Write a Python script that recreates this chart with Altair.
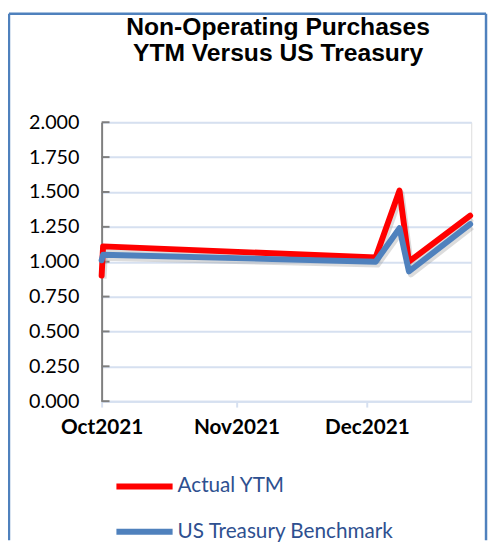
import altair as alt
import pandas as pd

# ---- data ----
dates = ["2021-10-01T00:00", "2021-10-01T08:00", "2021-12-03T00:00",
         "2021-12-08T12:00", "2021-12-10T16:00", "2021-12-24T18:00"]
actual_ytm = [0.90, 1.11, 1.03, 1.51, 1.00, 1.33]
treasury_benchmark = [1.01, 1.05, 1.00, 1.24, 0.93, 1.27]
series_names = ["Actual YTM", "US Treasury Benchmark"]
series_colors = ["#FF0000", "#4F81BD"]
y_tick_values = [0.0, 0.25, 0.5, 0.75, 1.0, 1.25, 1.5, 1.75, 2.0]
title_lines = ["Non-Operating Purchases", "YTM Versus US Treasury"]

rows = []
for i, d in enumerate(dates):
    rows.append({"date": d, "value": actual_ytm[i], "series": series_names[0], "ord": i})
    rows.append({"date": d, "value": treasury_benchmark[i], "series": series_names[1], "ord": i})
df = pd.DataFrame(rows)
ticks_df = pd.DataFrame({"value": y_tick_values})

W, H = 375, 283
PAD_L, PAD_T, PAD_R, PAD_B = 95, 112, 17, 141
BORDER = "#4F81BD"

x_enc = alt.X(
    "date:T",
    scale=alt.Scale(domain=[alt.DateTime(year=2021, month=10, date=1),
                            alt.DateTime(year=2021, month=12, date=25)]),
    axis=alt.Axis(
        title=None,
        values=[alt.DateTime(year=2021, month=10, date=1),
                alt.DateTime(year=2021, month=11, date=1),
                alt.DateTime(year=2021, month=12, date=1)],
        format="%b%Y",
        grid=False,
        labelFlush=False,
        domainColor="#D6E0F0", domainWidth=2,
        tickColor="#D6E0F0", tickWidth=2, tickSize=6,
        labelFont="Lato", labelFontWeight="bold", labelFontSize=21,
        labelColor="#000000", labelPadding=10,
    ),
)
y_enc = alt.Y(
    "value:Q",
    scale=alt.Scale(domain=[0, 2]),
    axis=alt.Axis(
        title=None,
        values=y_tick_values,
        format=".3f",
        grid=True, gridColor="#D6E0F0", gridWidth=2,
        domainColor="#7F7F7F", domainWidth=2,
        ticks=False,
        labelFont="Lato", labelFontSize=20, labelColor="#000000",
        labelPadding=23,
    ),
)

color_enc = alt.Color(
    "series:N",
    scale=alt.Scale(domain=series_names, range=series_colors),
    legend=alt.Legend(
        orient="none", legendX=12, legendY=338, title=None,
        symbolType="stroke", symbolSize=3249, symbolStrokeWidth=6,
        labelFont="Lato", labelFontSize=21, labelColor="#2E5090",
        labelOffset=2, rowPadding=2, direction="vertical", labelLimit=400,
    ),
)

shadow = alt.Chart(df).mark_line(
    strokeWidth=6, color="#9A9A9A", opacity=0.35, xOffset=2, yOffset=3, strokeJoin="round"
).encode(x=x_enc, y=y_enc, detail="series:N", order="ord:Q")

lines = alt.Chart(df).mark_line(strokeWidth=6, strokeJoin="round", strokeCap="round").encode(
    x=x_enc, y=y_enc, color=color_enc, order="ord:Q"
)

yticks = alt.Chart(ticks_df).mark_rule(color="#7F7F7F", strokeWidth=2).encode(
    y=y_enc, x=alt.value(0), x2=alt.value(8),
)

one = alt.Data(values=[{"k": 1}])
left = alt.Chart(one).mark_rule(color=BORDER, strokeWidth=2.5).encode(
    x=alt.value(-94), y=alt.value(-110), y2=alt.value(H + PAD_B))
right = alt.Chart(one).mark_rule(color=BORDER, strokeWidth=2.5).encode(
    x=alt.value(W + 15), y=alt.value(-110), y2=alt.value(H + PAD_B))
top = alt.Chart(one).mark_rule(color=BORDER, strokeWidth=2.5).encode(
    x=alt.value(-94), x2=alt.value(W + 15), y=alt.value(-110))

title_style = dict(font="Liberation Sans", fontSize=25, fontWeight="bold",
                   color="#000000", align="center", baseline="alphabetic")
title1 = alt.Chart(one).mark_text(**title_style).encode(
    x=alt.value(179), y=alt.value(-89), text=alt.value(title_lines[0]))
title2 = alt.Chart(one).mark_text(**title_style).encode(
    x=alt.value(179), y=alt.value(-62), text=alt.value(title_lines[1]))

chart = alt.layer(yticks, shadow, lines, left, right, top, title1, title2).properties(
    width=W, height=H,
    autosize=alt.AutoSizeParams(type="none"),
    padding={"left": PAD_L, "top": PAD_T, "right": PAD_R, "bottom": PAD_B},
).configure_view(stroke=None).configure(background="#FFFFFF")

chart.save("out.html", embed_options={"renderer": "svg", "actions": False})
